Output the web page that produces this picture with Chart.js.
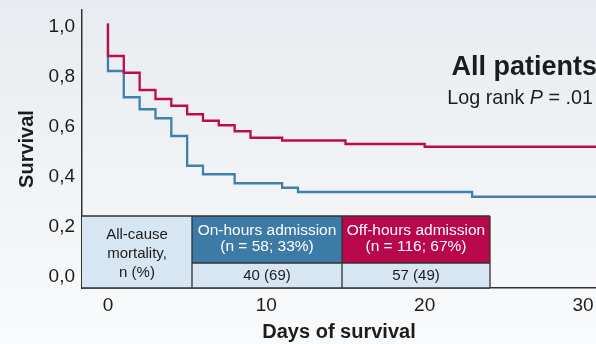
<!DOCTYPE html>
<html>
<head>
<meta charset="utf-8">
<script src="https://cdn.jsdelivr.net/npm/chart.js@4.4.0/dist/chart.umd.min.js"></script>
<style>
  html, body { margin: 0; padding: 0; background: #f4f6f8; }
  #wrap { width: 596px; height: 344px; position: relative; }
</style>
</head>
<body>
<div id="wrap"><canvas id="c" width="596" height="344"></canvas></div>
<script>
// ---- Data ----
const offHoursDays     = [0, 0, 1, 2, 3, 4, 5, 6, 7, 8, 9, 11, 15, 20, 31];
const offHoursSurvival = [1.0, 0.87, 0.803, 0.734, 0.698, 0.671, 0.637, 0.611, 0.593, 0.569, 0.543, 0.532, 0.518, 0.507, 0.507];
const onHoursDays      = [0, 0, 1, 2, 3, 4, 5, 6, 8, 11, 12, 23, 31];
const onHoursSurvival  = [1.0, 0.81, 0.705, 0.657, 0.621, 0.55, 0.431, 0.397, 0.361, 0.343, 0.326, 0.307, 0.307];

const xTickValues = [0, 10, 20, 30];
const yTickValues = [0, 0.2, 0.4, 0.6, 0.8, 1.0];
const yTickLabels = ['0,0', '0,2', '0,4', '0,6', '0,8', '1,0'];

const groupNames   = ['On-hours admission', 'Off-hours admission'];
const groupCounts  = ['(n = 58; 33%)', '(n = 116; 67%)'];
const mortality    = ['40 (69)', '57 (49)'];
const rowLabel     = ['All-cause', 'mortality,', 'n (%)'];

const titleText = 'All patients';
const subtitleParts = [['Log rank ', false], ['P', true], [' = .01', false]];

// ---- Styles ----
const FONT = '"Liberation Sans", Arial, Helvetica, sans-serif';
const RED = '#bf0a4b';
const BLUE = '#3f80ae';
const RED_FILL = '#b8074a';
const BLUE_FILL = '#3d7ba7';
const CELL_FILL = '#d7e6f3';
const INK = '#1c1c1c';
const LINE = '#333333';

const toPts = (xs, ys) => xs.map((x, i) => ({ x: x, y: ys[i] }));

const bgPlugin = {
  id: 'bg',
  beforeDraw(chart) {
    const ctx = chart.ctx;
    const g = ctx.createLinearGradient(0, 0, 0, chart.height);
    g.addColorStop(0, '#e8ecf0');
    g.addColorStop(1, '#f9fafb');
    ctx.save();
    ctx.fillStyle = g;
    ctx.fillRect(0, 0, chart.width, chart.height);
    ctx.restore();
  }
};

const annotPlugin = {
  id: 'annot',
  afterDatasetsDraw(chart) {
    const ctx = chart.ctx;
    const ca = chart.chartArea;
    ctx.save();
    // Title
    ctx.fillStyle = INK;
    ctx.textAlign = 'right';
    ctx.textBaseline = 'alphabetic';
    ctx.font = 'bold 27px ' + FONT;
    ctx.fillText(titleText, chart.width + 1, 75);
    // Subtitle with italic P
    let x = chart.width - 3;
    for (let i = subtitleParts.length - 1; i >= 0; i--) {
      const [t, it] = subtitleParts[i];
      ctx.font = (it ? 'italic ' : '') + '19.8px ' + FONT;
      ctx.fillText(t, x, 104);
      x -= ctx.measureText(t).width;
    }

    // Table
    const colW = [110, 150, 148];
    const headerH = 47, bodyH = 25;
    const bottom = ca.bottom;
    const top = bottom - headerH - bodyH;
    const mid = top + headerH;
    const x0 = ca.left, x1 = x0 + colW[0], x2 = x1 + colW[1], x3 = x2 + colW[2];

    ctx.fillStyle = CELL_FILL;
    ctx.fillRect(x0, top, x3 - x0, bottom - top);
    ctx.fillStyle = BLUE_FILL;
    ctx.fillRect(x1, top, x2 - x1, headerH);
    ctx.fillStyle = RED_FILL;
    ctx.fillRect(x2, top, x3 - x2, headerH);

    ctx.strokeStyle = LINE;
    ctx.lineWidth = 1.3;
    ctx.beginPath();
    ctx.moveTo(x0, top); ctx.lineTo(x3, top);
    ctx.moveTo(x1, mid); ctx.lineTo(x3, mid);
    ctx.moveTo(x0, bottom); ctx.lineTo(x3, bottom);
    ctx.moveTo(x1, top); ctx.lineTo(x1, bottom);
    ctx.moveTo(x2, top); ctx.lineTo(x2, bottom);
    ctx.moveTo(x3, top); ctx.lineTo(x3, bottom);
    ctx.stroke();

    ctx.textAlign = 'center';
    ctx.textBaseline = 'middle';
    ctx.font = '15px ' + FONT;
    ctx.fillStyle = INK;
    rowLabel.forEach((t, i) => ctx.fillText(t, (x0 + x1) / 2, top + 19 + i * 19));

    ctx.font = '15.5px ' + FONT;
    ctx.fillStyle = '#ffffff';
    const cx = [(x1 + x2) / 2, (x2 + x3) / 2];
    groupNames.forEach((t, i) => {
      ctx.fillText(t, cx[i], top + 15);
      ctx.fillText(groupCounts[i], cx[i], top + 31);
    });
    ctx.font = '15px ' + FONT;
    ctx.fillStyle = INK;
    mortality.forEach((t, i) => ctx.fillText(t, cx[i], mid + 12.5));
    ctx.restore();
  }
};

new Chart(document.getElementById('c'), {
  type: 'line',
  data: {
    datasets: [
      {
        label: 'Off-hours admission',
        data: toPts(offHoursDays, offHoursSurvival),
        borderColor: RED,
        borderWidth: 2.3,
        stepped: 'before',
        pointRadius: 0,
        fill: false
      },
      {
        label: 'On-hours admission',
        data: toPts(onHoursDays, onHoursSurvival),
        borderColor: BLUE,
        borderWidth: 2.3,
        stepped: 'before',
        pointRadius: 0,
        fill: false
      }
    ]
  },
  options: {
    responsive: false,
    devicePixelRatio: 1,
    animation: false,
    layout: { padding: { top: 10, left: 0, right: 0, bottom: 0 } },
    plugins: { legend: { display: false }, tooltip: { enabled: false } },
    scales: {
      x: {
        type: 'linear',
        min: -1.64,
        max: 30.82,
        afterBuildTicks(scale) { scale.ticks = xTickValues.map(v => ({ value: v })); },
        afterFit(scale) { scale.height = 56; scale.paddingLeft = 0; scale.paddingRight = 0; },
        grid: { display: false, drawTicks: false },
        border: { display: true, color: LINE, width: 1.5 },
        ticks: {
          autoSkip: false,
          maxRotation: 0,
          padding: 6,
          color: INK,
          font: { family: FONT, size: 19 }
        },
        title: {
          display: true,
          text: 'Days of survival',
          color: INK,
          font: { family: FONT, size: 20, weight: 'bold' },
          padding: { top: 0, bottom: 0 }
        }
      },
      y: {
        type: 'linear',
        min: -0.058,
        max: 1.054,
        afterBuildTicks(scale) { scale.ticks = yTickValues.map(v => ({ value: v })); },
        afterFit(scale) { scale.width = 82; scale.paddingTop = 0; scale.paddingBottom = 0; },
        grid: { display: false, drawTicks: false },
        border: { display: true, color: LINE, width: 1.5 },
        ticks: {
          autoSkip: false,
          padding: 7,
          labelOffset: 3,
          color: INK,
          font: { family: FONT, size: 19 },
          callback: (v) => yTickLabels[yTickValues.findIndex(t => Math.abs(t - v) < 1e-6)]
        },
        title: {
          display: true,
          text: 'Survival',
          color: INK,
          font: { family: FONT, size: 20, weight: 'bold' },
          padding: { top: 15, bottom: 0 }
        }
      }
    }
  },
  plugins: [bgPlugin, annotPlugin]
});
</script>
</body>
</html>
